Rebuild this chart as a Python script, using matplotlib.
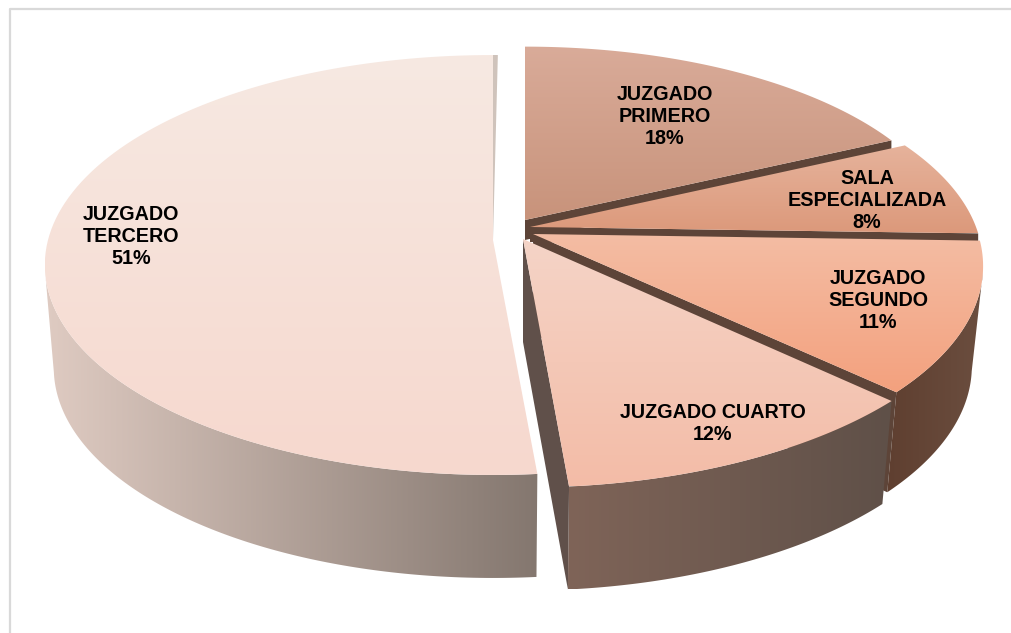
import numpy as np
import matplotlib
matplotlib.use("Agg")
import matplotlib.pyplot as plt
from matplotlib.colors import to_rgb
from matplotlib.patches import Polygon

# datos del grafico (la etiqueta muestra el valor redondeado)
nombres = ['JUZGADO\nPRIMERO', 'SALA\nESPECIALIZADA', 'JUZGADO\nSEGUNDO', 'JUZGADO CUARTO', 'JUZGADO\nTERCERO']
porcentajes = [17.9, 7.6, 11.4, 11.7, 51.4]

# estilo por porcion: apice, radios, perspectiva, altura de pared, colores
apices = [(525, 220), (530, 227), (533, 234), (523, 239), (493, 240)]
radios_x = [427, 446, 445, 462, 445]
radios_y = [194, 203, 209, 219, 207]
perspectiva = [0.119, 0.17, 0.15, 0.119, 0.119]
alturas = [20, 15, 100, 103, 103]
encoge = [1, 1, 0.975, 0.975, 0.98]
# tramo de la pared exterior que se ve, en grados (None = el borde de la porcion)
pared_ini = [None, None, 100, None, None]
pared_fin = [None, None, None, None, 262]
cara_sup = [('#d9ab99', '#c8937b'), ('#e6b39c', '#dc997b'), ('#f3bda4', '#f4a17e'),
            ('#f5d4c7', '#f3bca7'), ('#f7e9e2', '#f6d8ce')]
pared = [('#5d4438', '#5d4438'), ('#5d4438', '#5d4438'), ('#5f3f30', '#6b4e3f'),
         ('#7f6458', '#5f5048'), ('#dfcbc2', '#84776f')]
pos_texto = [(665, 116), (867, 200), (878, 301), (713, 424), (131, 236)]

plt.rcParams['font.family'] = ['Liberation Sans', 'DejaVu Sans']


def arco(i, a0, a1, n=120):
    t = np.radians(np.linspace(a0, a1, n))
    w = 1 + perspectiva[i] * np.cos(t)
    x = apices[i][0] + radios_x[i] * np.sin(t) / w
    y = apices[i][1] - radios_y[i] * np.cos(t) / w
    return np.column_stack([x, y])


def degradado(ax, puntos, colores, vertical, z):
    # relleno con degradado recortado al poligono
    poly = Polygon(puntos, closed=True, transform=ax.transData, fc='none', ec='none')
    ax.add_patch(poly)
    x0, y0 = puntos.min(axis=0)
    x1, y1 = puntos.max(axis=0)
    f = np.linspace(0, 1, 256)[:, None]
    c0, c1 = np.array(to_rgb(colores[0])), np.array(to_rgb(colores[1]))
    img = c0 + (c1 - c0) * f
    img = img[:, None, :] if vertical else img[None, :, :]
    im = ax.imshow(img, extent=[x0, x1, y1, y0], aspect='auto', interpolation='bilinear', zorder=z)
    im.set_clip_path(poly)


fig = plt.figure(figsize=(10.12, 6.33), dpi=100)
ax = fig.add_axes([0, 0, 1, 1])
ax.axis('off')

# marco gris, solo arriba y a la izquierda
ax.plot([10.5, 10.5, 1012], [633, 8.5, 8.5], color='#d9d9d9', lw=1.6, zorder=1)

limites = np.cumsum([0] + porcentajes) * 3.6
z = 2
for i in [0, 1, 2, 4, 3]:
    a0, a1 = limites[i], limites[i + 1]
    h = alturas[i]
    apice = np.array(apices[i], dtype=float)
    borde = arco(i, a0, a1)
    baja = np.array([0, h])

    # pared exterior, el borde de abajo queda algo mas estrecho por la perspectiva
    if i in (2, 3, 4):
        ini = a0 if pared_ini[i] is None else pared_ini[i]
        fin = a1 if pared_fin[i] is None else pared_fin[i]
        ext = arco(i, ini, fin)
        abajo = ext + baja
        abajo[:, 0] = apice[0] + (abajo[:, 0] - apice[0]) * encoge[i]
        degradado(ax, np.vstack([ext, abajo[::-1]]), pared[i], False, z)
        z += 1

    # cara radial
    if i in (0, 1, 2, 3):
        p = borde[-1]
        q = p + baja
        q[0] = apice[0] + (q[0] - apice[0]) * encoge[i]
        cara = np.array([apice, p, q, apice + baja])
        color = '#60504a' if i == 3 else '#5d4438'
        ax.add_patch(Polygon(cara, closed=True, fc=color, ec='none', zorder=z))
        z += 1

    # filo gris junto al corte de arriba del tercero
    if i == 4:
        filo = np.vstack([apice, arco(i, 360, 360.7, 5)])
        ax.add_patch(Polygon(filo, closed=True, fc='#cfc3bb', ec='none', zorder=z))

    # cara superior
    degradado(ax, np.vstack([apice, borde]), cara_sup[i], True, z + 1)
    z += 2

    ax.text(pos_texto[i][0], pos_texto[i][1], f'{nombres[i]}\n{round(porcentajes[i])}%', ha='center', va='center',
            fontsize=14.2, fontweight='bold', color='black', zorder=50)

ax.set_xlim(0, 1012)
ax.set_ylim(633, 0)
fig.savefig('out.png', dpi=100, facecolor='white')
